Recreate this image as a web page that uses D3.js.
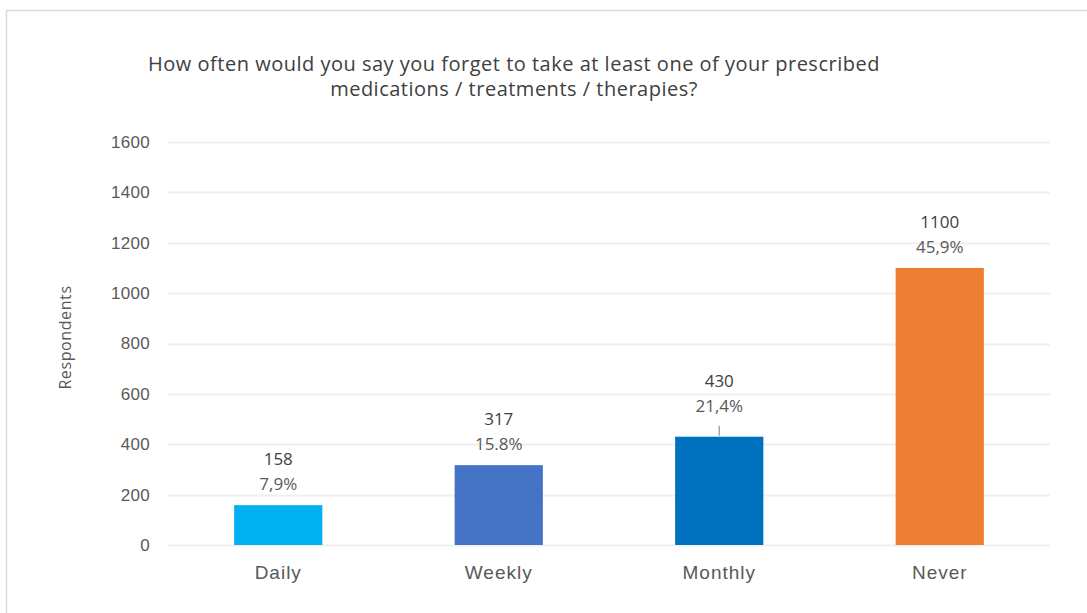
<!DOCTYPE html>
<html>
<head>
<meta charset="utf-8">
<script src="https://cdn.jsdelivr.net/npm/d3@7"></script>
<style>
  body { margin: 0; background: #fff; }
  svg { font-family: "Open Sans", "Noto Sans", sans-serif; }
</style>
</head>
<body>
<div id="chart"></div>
<script>
// data
const categories = ["Daily", "Weekly", "Monthly", "Never"];
const respondents = [158, 317, 430, 1100];
const percentLabels = ["7,9%", "15.8%", "21,4%", "45,9%"];
const yTicks = [0, 200, 400, 600, 800, 1000, 1200, 1400, 1600];
const barColors = ["#00b0f0", "#4472c4", "#0070c0", "#ed7d31"];
const titleLines = [
    "How often would you say you forget to take at least one of your prescribed",
    "medications / treatments / therapies?"
];

// the Monthly label was dragged up a bit in the original, with a leader line
const labelLift = [0, 0, 10, 0];

const width = 1087, height = 613;
const margin = { top: 142, right: 37, bottom: 68, left: 168 };

const svg = d3.select("#chart").append("svg")
    .attr("width", width)
    .attr("height", height);

// chart frame
svg.append("rect")
    .attr("x", 6.5).attr("y", 10.5)
    .attr("width", width + 20).attr("height", height + 20)
    .attr("fill", "none")
    .attr("stroke", "#d9d9d9")
    .attr("stroke-width", 1.5);

const x = d3.scaleBand()
    .domain(categories)
    .range([margin.left, width - margin.right])
    .paddingInner(0.6)
    .paddingOuter(0.3);

const y = d3.scaleLinear()
    .domain([0, 1600])
    .range([height - margin.bottom, margin.top]);

// gridlines
svg.append("g")
    .selectAll("line")
    .data(yTicks)
    .join("line")
    .attr("x1", margin.left)
    .attr("x2", width - margin.right)
    .attr("y1", d => Math.round(y(d)) + 0.5)
    .attr("y2", d => Math.round(y(d)) + 0.5)
    .attr("stroke", "#efefef")
    .attr("stroke-width", 2);

// y axis labels
const yAxis = svg.append("g")
    .attr("transform", `translate(${margin.left - 18},0)`)
    .call(d3.axisLeft(y).tickValues(yTicks).tickFormat(d3.format("d")).tickSize(0).tickPadding(0));
yAxis.select(".domain").remove();
yAxis.selectAll("text")
    .attr("fill", "#595959")
    .style("font-size", "17px")
    .style("letter-spacing", "0.3px");

// x axis labels
const xAxis = svg.append("g")
    .attr("transform", `translate(0,${height - margin.bottom})`)
    .call(d3.axisBottom(x).tickSize(0).tickPadding(21));
xAxis.select(".domain").remove();
xAxis.selectAll("text")
    .attr("fill", "#595959")
    .style("font-size", "19px")
    .style("letter-spacing", "1px");

// bars
svg.append("g")
    .selectAll("rect")
    .data(categories)
    .join("rect")
    .attr("x", d => x(d))
    .attr("y", (d, i) => y(respondents[i]))
    .attr("width", x.bandwidth())
    .attr("height", (d, i) => y(0) - y(respondents[i]))
    .attr("fill", (d, i) => barColors[i]);

// data labels
const labels = svg.append("g").attr("text-anchor", "middle");
categories.forEach((c, i) => {
    const cx = x(c) + x.bandwidth() / 2;
    const top = y(respondents[i]) - labelLift[i];
    labels.append("text")
        .attr("x", cx).attr("y", top - 40)
        .attr("fill", "#404040")
        .style("font-size", "17px")
        .text(respondents[i]);
    labels.append("text")
        .attr("x", cx).attr("y", top - 15)
        .attr("fill", "#595959")
        .style("font-size", "17px")
        .text(percentLabels[i]);
    if (labelLift[i] > 0) {
        labels.append("line")
            .attr("x1", cx).attr("x2", cx)
            .attr("y1", top - 1).attr("y2", y(respondents[i]) - 1)
            .attr("stroke", "#a6a6a6")
            .attr("stroke-width", 1.5);
    }
});

// y axis title
svg.append("text")
    .attr("transform", `translate(71,${(y(0) + y(1600)) / 2 - 6}) rotate(-90)`)
    .attr("text-anchor", "middle")
    .attr("fill", "#595959")
    .style("font-size", "16px")
    .style("letter-spacing", "0.6px")
    .text("Respondents");

// title
svg.append("g")
    .attr("text-anchor", "middle")
    .selectAll("text")
    .data(titleLines)
    .join("text")
    .attr("x", 514)
    .attr("y", (d, i) => 71 + i * 25)
    .attr("fill", "#404040")
    .style("font-size", "20px")
    .style("letter-spacing", "0.5px")
    .text(d => d);
</script>
</body>
</html>
